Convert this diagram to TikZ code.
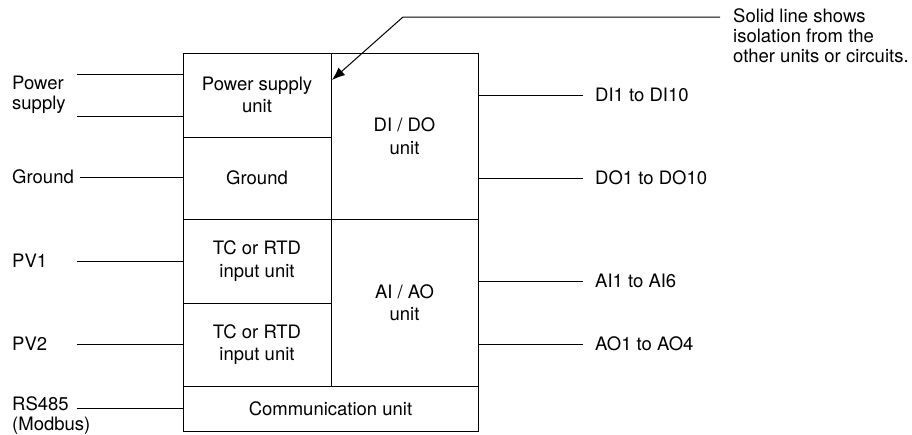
\documentclass[tikz,border=0pt]{standalone}
\usepackage{fontspec}
\setmainfont{TeX Gyre Heros}
\usetikzlibrary{arrows.meta}

\tikzset{
  unit/.style={draw, line width=1pt, inner sep=0pt, outer sep=0pt, align=center},
  sig/.style={inner sep=0pt, align=left, font=\fontsize{18.5}{20}\selectfont},
  wire/.style={line width=1pt},
}

\begin{document}
\begin{tikzpicture}[x=1pt,y=-1pt,font=\fontsize{18.5}{22.5}\selectfont]
    \useasboundingbox (0,0) rectangle (912,434);
    % units
    \node[unit, minimum width=148pt, minimum height=84pt] (psu) at (257,95) {Power supply\\unit};
    \node[unit, minimum width=148pt, minimum height=82pt] (gnd) at (257,178) {Ground};
    \node[unit, minimum width=148pt, minimum height=84pt] (tca) at (257,261) {TC or RTD\\input unit};
    \node[unit, minimum width=148pt, minimum height=83pt] (tcb) at (257,344.5) {TC or RTD\\input unit};
    \node[unit, minimum width=147pt, minimum height=166pt] (dio) at (404.5,136) {DI / DO\\unit};
    \node[unit, minimum width=147pt, minimum height=167pt] (aio) at (404.5,302.5) {AI / AO\\unit};
    \node[unit, minimum width=295pt, minimum height=45pt] (com) at (330.5,408.5) {Communication unit};
    % left side
    \node[sig, anchor=west] (pwrlbl) at (12,95) {Power\\supply};
    \node[sig, anchor=west] (gndlbl) at (12,177) {Ground};
    \node[sig, anchor=west] (pvalbl) at (12,261) {PV1};
    \node[sig, anchor=west] (pvblbl) at (12,344) {PV2};
    \node[sig, anchor=west] (rslbl) at (12,416) {RS485\\(Modbus)};
    \coordinate (pwra) at (77,74);
    \coordinate (pwrb) at (77,116);
    \coordinate (gndin) at (80,177);
    \coordinate (pvain) at (77,261);
    \coordinate (pvbin) at (77,344);
    \coordinate (rsin) at (77,408);
    \draw[wire] (pwra) -- (pwra -| psu.west);
    \draw[wire] (pwrb) -- (pwrb -| psu.west);
    \draw[wire] (gndin) -- (gndin -| gnd.west);
    \draw[wire] (pvain) -- (pvain -| tca.west);
    \draw[wire] (pvbin) -- (pvbin -| tcb.west);
    \draw[wire] (rsin) -- (rsin -| com.west);
    % right side
    \node[sig, anchor=west] (dilbl) at (595,95) {DI1 to DI10};
    \node[sig, anchor=west] (dolbl) at (595,178) {DO1 to DO10};
    \node[sig, anchor=west] (ailbl) at (595,281) {AI1 to AI6};
    \node[sig, anchor=west] (aolbl) at (595,344) {AO1 to AO4};
    \draw[wire] (dio.east |- dilbl.west) -- ++(105,0);
    \draw[wire] (dio.east |- dolbl.west) -- ++(105,0);
    \draw[wire] (aio.east |- ailbl.west) -- ++(105,0);
    \draw[wire] (aio.east |- aolbl.west) -- ++(105,0);
    % isolation note
    \node[sig, anchor=north west] (note) at (733,8) {Solid line shows\\isolation from the\\other units or circuits.};
    \coordinate (noteend) at (720,17);
    \coordinate (bend) at (403,17);
    \coordinate (tip) at (332,80);
    \draw[wire, -{Latex[length=13pt,width=10pt]}] (noteend) -- (bend) -- (tip);
\end{tikzpicture}
\end{document}
